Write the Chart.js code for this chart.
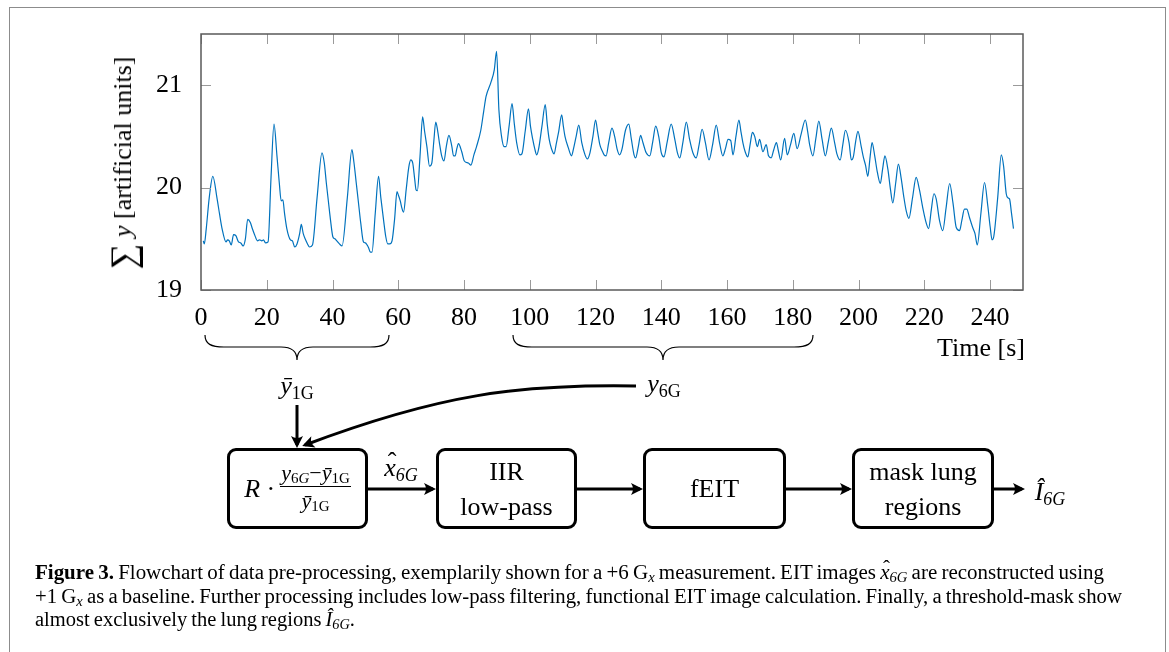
<!DOCTYPE html>
<html>
<head>
<meta charset="utf-8">
<script src="https://cdn.jsdelivr.net/npm/chart.js@4.4.1/dist/chart.umd.min.js"></script>
<style>
  html, body { margin: 0; padding: 0; background: #fff; }
  #page { position: relative; width: 1169px; height: 652px; overflow: hidden;
          font-family: 'Liberation Serif', 'DejaVu Serif', serif; color: #000; }
  #frame { position: absolute; left: 9px; top: 7px; width: 1157px; height: 720px;
           border: 1.5px solid #8c8c8c; box-sizing: border-box; }
  #plot { position: absolute; left: 0; top: 0; }
  #svg { position: absolute; left: 0; top: 0; }
  .lbl { position: absolute; font-size: 26px; line-height: 1; white-space: nowrap;
         transform: translate(-50%, -50%); }
  .sb { font-size: 18px; position: relative; top: 5px; }
  .box { position: absolute; top: 448px; height: 81px; border: 3px solid #000; border-radius: 9px;
         box-sizing: border-box; display: flex; align-items: center; justify-content: center;
         text-align: center; font-size: 26px; line-height: 35px; }
  .frac { display: inline-flex; flex-direction: column; align-items: center; font-size: 22px;
          line-height: 1; vertical-align: middle; margin-left: 5px; position: relative; top: -2px; }
  .frac .num { border-bottom: 1.2px solid #000; padding: 0 1px 2px; }
  .frac .den { padding-top: 3px; }
  .frac .s2 { font-size: 15px; position: relative; top: 3px; }
  .hat { position: relative; display: inline-block; }
  .hat::before { content: "\02C6"; position: absolute; left: 0.14em; top: -0.22em; font-style: normal; }
  #ytitle { position: absolute; left: 119px; top: 163px; font-size: 26px; line-height: 1; white-space: nowrap;
            transform: translate(-50%, -50%) rotate(-90deg); }
  #ytitle .sum { font-size: 36px; position: relative; top: 4px; }
  .cap { position: absolute; left: 35px; font-size: 20px; line-height: 1; white-space: nowrap;
         word-spacing: -1px; transform-origin: 0 50%; }
  .cap sub { font-size: 14px; vertical-align: -3px; line-height: 0; }
</style>
</head>
<body>
<div id="page">
  <div id="frame"></div>
  <canvas id="plot" width="1169" height="340"></canvas>

  <div id="ytitle"><span class="sum">&sum;</span>&nbsp;<i>y</i> [artificial units]</div>
  <div class="lbl" style="left:981px; top:348px;">Time [s]</div>

  <svg id="svg" width="1169" height="652">
    <defs>
      <marker id="ah" viewBox="-13 -7 14 14" refX="-3" refY="0" markerWidth="14" markerHeight="14"
              orient="auto" markerUnits="userSpaceOnUse">
        <path d="M0,0 L-12,-6 Q-8,0 -12,6 Z" fill="#000"/>
      </marker>
    </defs>
    <g fill="none" stroke="#000" stroke-width="1.2">
      <path d="M205,335 C205,344 211,347 224,347 L281,347 C292,347 297,352 297,360 C297,352 302,347 313,347 L370,347 C383,347 389,344 389,335"/>
      <path d="M513,335 C513,344 519,347 532,347 L647,347 C658,347 663,352 663,360 C663,352 668,347 679,347 L794,347 C807,347 813,344 813,335"/>
    </g>
    <g fill="none" stroke="#000" stroke-width="3" marker-end="url(#ah)">
      <path d="M297,405 V445"/>
      <path d="M636,386 C520,384 440,394 305,445"/>
      <path d="M368,489 H433"/>
      <path d="M577,489 H640"/>
      <path d="M786,489 H849"/>
      <path d="M994,489 H1022"/>
    </g>
  </svg>

  <div class="lbl" style="left:297px; top:386px;"><i>ȳ</i><span class="sb">1G</span></div>
  <div class="lbl" style="left:664px; top:384px;"><i>y</i><span class="sb">6G</span></div>
  <div class="lbl" style="left:401px; top:468px;"><i class="hat">x</i><span class="sb"><i>6G</i></span></div>
  <div class="lbl" style="left:1050px; top:492px;"><i>Î</i><span class="sb"><i>6G</i></span></div>

  <div class="box" style="left:227px; width:141px;">
    <span><i>R</i> &middot;</span>
    <span class="frac">
      <span class="num"><i>y</i><span class="s2">6<i>G</i></span>&minus;<i>ȳ</i><span class="s2">1G</span></span>
      <span class="den"><i>ȳ</i><span class="s2">1G</span></span>
    </span>
  </div>
  <div class="box" style="left:436px; width:141px;">IIR<br>low-pass</div>
  <div class="box" style="left:643px; width:143px;">fEIT</div>
  <div class="box" style="left:852px; width:142px;">mask lung<br>regions</div>

  <div class="cap" data-w="1069" style="top:562px;"><b>Figure 3.</b> Flowchart of data pre-processing, exemplarily shown for a +6 G<sub><i>x</i></sub> measurement. EIT images <i class="hat">x</i><sub><i>6G</i></sub> are reconstructed using</div>
  <div class="cap" data-w="1087" style="top:586px;">+1 G<sub><i>x</i></sub> as a baseline. Further processing includes low-pass filtering, functional EIT image calculation. Finally, a threshold-mask show</div>
  <div class="cap" data-w="320" style="top:609px;">almost exclusively the lung regions <i>Î</i><sub><i>6G</i></sub>.</div>
</div>

<script>
// time axis in seconds
const timeS = [
  0.7, 1.0, 1.6, 2.5, 3.6, 4.9, 5.6, 6.4, 7.6, 8.1, 8.6, 9.2, 9.9, 10.6, 11.4, 12.1, 12.8, 13.5, 14.2, 15.0,
  15.6, 16.3, 17.2, 17.8, 18.5, 19.0, 19.6, 20.4, 21.3, 22.2, 23.1, 23.8, 24.4, 24.9, 25.4, 26.1, 27.2, 27.8, 28.5, 29.2,
  30.0, 30.5, 31.1, 31.8, 32.4, 33.0, 33.9, 35.3, 36.8, 37.5, 38.1, 38.8, 39.4, 40.1, 40.7, 41.3, 42.1, 42.9, 44.5, 45.9,
  46.5, 47.2, 47.9, 48.6, 49.4, 50.0, 50.5, 51.0, 51.5, 52.0, 53.0, 54.0, 54.7, 55.5, 56.2, 56.8, 57.4, 58.1, 58.9, 59.6,
  60.1, 60.6, 61.1, 61.6, 62.4, 63.2, 63.8, 64.4, 65.0, 65.4, 65.8, 66.6, 67.4, 68.0, 68.7, 69.5, 70.2, 70.8, 71.4, 72.0,
  72.5, 73.2, 73.9, 74.6, 75.4, 76.3, 76.8, 77.3, 77.8, 78.3, 79.3, 80.1, 81.3, 82.1, 83.0, 83.8, 85.1, 86.0, 86.7, 88.1,
  89.2, 89.9, 90.6, 91.4, 92.2, 92.8, 93.7, 94.6, 95.3, 96.0, 97.0, 97.6, 98.6, 99.6, 100.2, 100.9, 101.5, 102.1, 102.7, 103.7,
  104.7, 105.3, 105.9, 106.6, 107.4, 108.0, 108.8, 109.7, 110.2, 110.7, 111.7, 112.7, 113.3, 114.1, 114.9, 115.8, 116.8, 117.5, 118.3, 119.2,
  120.0, 120.6, 121.3, 122.0, 122.6, 123.2, 124.0, 125.0, 125.8, 126.6, 127.3, 128.0, 129.1, 130.1, 130.9, 131.7, 132.2, 133.0, 133.7, 134.4,
  135.4, 136.5, 137.4, 138.3, 139.2, 140.0, 140.8, 141.8, 143.0, 144.1, 144.9, 145.6, 146.6, 147.6, 148.6, 149.6, 150.6, 151.5, 152.4, 153.4,
  154.5, 155.6, 156.7, 157.7, 158.7, 159.5, 160.3, 161.1, 161.8, 162.7, 163.6, 164.2, 164.8, 165.5, 166.3, 167.0, 167.7, 168.4, 169.2, 169.9,
  170.9, 171.9, 172.6, 173.4, 174.2, 175.0, 175.6, 176.3, 177.5, 178.3, 179.3, 180.3, 181.3, 182.5, 183.8, 184.5, 185.1, 186.1, 187.0, 187.9,
  188.9, 189.9, 190.8, 191.7, 192.7, 193.4, 194.4, 195.2, 196.0, 197.1, 197.8, 198.4, 199.1, 199.8, 200.8, 201.5, 202.1, 202.8, 203.5, 204.1,
  204.9, 205.7, 206.6, 207.3, 208.0, 208.9, 209.7, 210.4, 211.3, 212.1, 213.0, 213.7, 214.5, 215.3, 216.4, 217.5, 218.5, 219.6, 220.6, 221.3,
  222.1, 222.9, 223.6, 224.6, 225.6, 226.6, 227.7, 228.7, 229.7, 230.7, 231.4, 232.2, 232.9, 233.7, 234.7, 235.4, 236.1, 237.2, 238.3, 239.3,
  240.0, 240.6, 241.1, 242.3, 243.4, 244.1, 244.9, 245.4, 245.9, 246.5, 247.1
];
// summed signal, artificial units
const sumY = [
  19.48, 19.45, 19.60, 19.90, 20.11, 19.89, 19.75, 19.60, 19.47, 19.49, 19.48, 19.44, 19.54, 19.53, 19.47, 19.46, 19.43, 19.50, 19.69, 19.66,
  19.60, 19.54, 19.48, 19.49, 19.48, 19.49, 19.46, 19.47, 20.10, 20.62, 20.31, 20.05, 19.87, 19.88, 19.75, 19.60, 19.49, 19.48, 19.42, 19.45,
  19.55, 19.64, 19.55, 19.49, 19.45, 19.42, 19.44, 19.90, 20.34, 20.24, 20.05, 19.85, 19.68, 19.52, 19.50, 19.48, 19.45, 19.43, 19.90, 20.37,
  20.25, 20.05, 19.85, 19.65, 19.47, 19.46, 19.44, 19.41, 19.37, 19.37, 19.75, 20.11, 19.90, 19.69, 19.52, 19.45, 19.45, 19.48, 19.70, 19.96,
  19.92, 19.87, 19.80, 19.76, 19.98, 20.20, 20.27, 20.24, 20.08, 19.98, 19.97, 20.30, 20.69, 20.55, 20.40, 20.21, 20.24, 20.45, 20.64, 20.55,
  20.44, 20.31, 20.26, 20.40, 20.51, 20.40, 20.31, 20.31, 20.38, 20.43, 20.35, 20.26, 20.24, 20.22, 20.32, 20.40, 20.56, 20.75, 20.89, 21.02,
  21.15, 21.33, 20.76, 20.50, 20.40, 20.40, 20.60, 20.82, 20.62, 20.44, 20.32, 20.33, 20.55, 20.77, 20.60, 20.47, 20.38, 20.32, 20.38, 20.60,
  20.81, 20.62, 20.47, 20.38, 20.33, 20.42, 20.55, 20.71, 20.60, 20.50, 20.39, 20.31, 20.38, 20.50, 20.61, 20.44, 20.32, 20.28, 20.34, 20.50,
  20.66, 20.55, 20.42, 20.36, 20.32, 20.31, 20.44, 20.58, 20.50, 20.37, 20.32, 20.37, 20.56, 20.62, 20.47, 20.32, 20.29, 20.40, 20.51, 20.44,
  20.34, 20.31, 20.45, 20.60, 20.50, 20.34, 20.30, 20.45, 20.62, 20.47, 20.34, 20.29, 20.45, 20.64, 20.47, 20.34, 20.29, 20.42, 20.57, 20.44,
  20.27, 20.42, 20.61, 20.44, 20.31, 20.38, 20.47, 20.46, 20.32, 20.50, 20.66, 20.55, 20.44, 20.35, 20.30, 20.42, 20.54, 20.50, 20.40, 20.47,
  20.35, 20.42, 20.31, 20.29, 20.37, 20.44, 20.36, 20.27, 20.48, 20.32, 20.42, 20.53, 20.38, 20.52, 20.66, 20.55, 20.42, 20.31, 20.48, 20.65,
  20.47, 20.31, 20.45, 20.58, 20.44, 20.33, 20.27, 20.42, 20.56, 20.44, 20.27, 20.30, 20.45, 20.55, 20.40, 20.29, 20.22, 20.11, 20.30, 20.44,
  20.31, 20.15, 20.04, 20.18, 20.31, 20.18, 19.98, 19.85, 20.05, 20.23, 20.08, 19.92, 19.77, 19.70, 19.90, 20.10, 19.98, 19.79, 19.65, 19.60,
  19.78, 19.94, 19.89, 19.68, 19.58, 19.80, 20.04, 19.85, 19.61, 19.58, 19.68, 19.79, 19.79, 19.71, 19.61, 19.55, 19.44, 19.75, 20.05, 19.82,
  19.62, 19.49, 19.52, 19.90, 20.32, 20.21, 19.94, 19.90, 19.89, 19.75, 19.60
];
const xTicks = [0, 20, 40, 60, 80, 100, 120, 140, 160, 180, 200, 220, 240];
const yTicks = [19, 20, 21];

const tickFont = { family: "'Liberation Serif', serif", size: 26 };

// pgfplots-like box: frame plus inward ticks on all four sides
const axisBox = {
  id: 'axisBox',
  afterDatasetsDraw(chart) {
    const { ctx, chartArea: a, scales: { x, y } } = chart;
    ctx.save();
    ctx.strokeStyle = '#9a9a9a';
    ctx.lineWidth = 1;
    ctx.beginPath();
    x.ticks.forEach(t => {
      const px = Math.round(x.getPixelForValue(t.value)) + 0.5;
      ctx.moveTo(px, a.bottom); ctx.lineTo(px, a.bottom - 10);
      ctx.moveTo(px, a.top); ctx.lineTo(px, a.top + 10);
    });
    y.ticks.forEach(t => {
      const py = Math.round(y.getPixelForValue(t.value)) + 0.5;
      ctx.moveTo(a.left, py); ctx.lineTo(a.left + 10, py);
      ctx.moveTo(a.right, py); ctx.lineTo(a.right - 10, py);
    });
    ctx.stroke();
    ctx.strokeStyle = '#5a5a5a';
    ctx.lineWidth = 1.5;
    ctx.strokeRect(a.left, a.top, a.right - a.left, a.bottom - a.top);
    ctx.restore();
  }
};

new Chart(document.getElementById('plot'), {
  type: 'line',
  data: {
    datasets: [{
      data: timeS.map((t, i) => ({ x: t, y: sumY[i] })),
      borderColor: '#0072bd',
      borderWidth: 1.2,
      pointRadius: 0,
      cubicInterpolationMode: 'monotone',
      fill: false
    }]
  },
  options: {
    responsive: false,
    animation: false,
    devicePixelRatio: 1,
    layout: { padding: { left: 0, top: 34, right: 146, bottom: 0 } },
    plugins: { legend: { display: false }, tooltip: { enabled: false } },
    scales: {
      x: {
        type: 'linear', min: 0, max: 250,
        afterBuildTicks: s => { s.ticks = xTicks.map(v => ({ value: v })); },
        afterFit: s => { s.height = 50; },
        grid: { display: false }, border: { display: false },
        ticks: { color: '#000', font: tickFont, padding: 5, maxRotation: 0, autoSkip: false }
      },
      y: {
        type: 'linear', min: 19, max: 21.5,
        afterBuildTicks: s => { s.ticks = yTicks.map(v => ({ value: v })); },
        afterFit: s => { s.width = 201; },
        grid: { display: false }, border: { display: false },
        ticks: { color: '#000', font: tickFont, padding: 11, autoSkip: false }
      }
    }
  },
  plugins: [axisBox]
});

// squeeze caption lines to the measured widths of the reference
document.querySelectorAll('.cap').forEach(el => {
  const w = el.getBoundingClientRect().width;
  el.style.transform = 'scaleX(' + (Number(el.dataset.w) / w) + ')';
});
</script>
</body>
</html>
